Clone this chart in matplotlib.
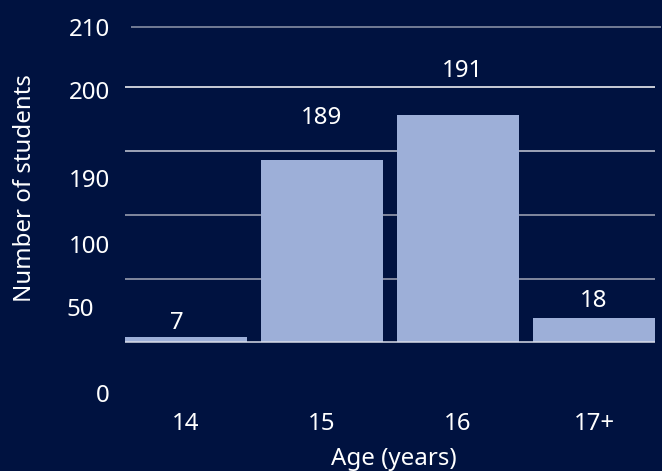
import numpy as np
import matplotlib
matplotlib.use('Agg')
import matplotlib.pyplot as plt
from matplotlib.transforms import ScaledTranslation

# ---- data ----
categories = ['14', '15', '16', '17+']
students = [7, 189, 191, 18]
y_tick_labels = ['0', '50', '100', '190', '200', '210']

# ---- style ----
BG = '#001240'
BAR = '#9DAFD8'
FS = 17.3
plt.rcParams['font.family'] = ['Noto Sans', 'DejaVu Sans']

# The original chart uses a distorted (non-linear) vertical axis.
# Scale knots: data value -> drawn height (px above the baseline)
val_knots = [-60, 0, 7, 18, 189, 191, 260]
hgt_knots = [-60, 0, 5, 24, 182, 227, 320]


def fwd(v):
    return np.interp(v, val_knots, hgt_knots)


def inv(h):
    return np.interp(h, hgt_knots, val_knots)


W, H = 662, 471
fig = plt.figure(figsize=(W / 100, H / 100), dpi=100, facecolor=BG)
base_px = 342.3
ax = fig.add_axes([125 / W, (H - (base_px + 60)) / H, 530 / W, 380 / H])
ax.set_facecolor(BG)
ax.set_yscale('function', functions=(fwd, inv))
ax.set_ylim(inv(-60), inv(320))
ax.set_xlim(-0.4485, 3.4485)
for s in ax.spines.values():
    s.set_visible(False)

# gridlines (drawn heights)
grid_h = [63.6, 127.3, 191.3, 255.0, 315.6]
grid_c = ['#a4a8b8', '#a4a8b8', '#c8ccd8', '#ffffff', '#9098ac']
for h, c in zip(grid_h, grid_c):
    x0 = 0.0113 if h > 300 else 0.0
    x1 = 1.0113 if h > 300 else 1.0
    ax.plot([x0, x1], [inv(h), inv(h)], transform=ax.get_yaxis_transform(),
            color=c, lw=1.1, zorder=1, clip_on=False, solid_capstyle='butt')

x = np.arange(len(categories))
ax.bar(x, students, width=122 / 136, color=BAR, zorder=2)
ax.plot([0, 1], [0, 0], transform=ax.get_yaxis_transform(), color='#d8dce8',
        lw=1.1, zorder=3)

label_off = [(-9, 8), (0, 36), (4, 38), (0, 11)]
for xi, v, off in zip(x, students, label_off):
    ax.annotate(str(v), (xi, v), xytext=off, textcoords='offset pixels',
                ha='center', va='baseline', color='white', fontsize=FS)

tick_h = [-50.7, 35.3, 98.1, 164.0, 252.3, 315.3]
ax.set_yticks(inv(np.array(tick_h)), y_tick_labels)
ax.set_xticks(x, categories)
ax.tick_params(axis='both', length=0, colors='white', labelsize=FS)
ax.tick_params(axis='y', pad=11)
ax.tick_params(axis='x', pad=7)
ax.minorticks_off()

# the "50" label sits further left in the original
lab50 = ax.get_yticklabels()[1]
lab50.set_transform(lab50.get_transform()
                    + ScaledTranslation(-16 / 100, 0, fig.dpi_scale_trans))

fig.text(394 / W, 1 - 465 / H, 'Age (years)', ha='center', va='baseline',
         color='white', fontsize=FS)
fig.text(25 / W, 1 - 188 / H, 'Number of students', ha='center', va='center',
         rotation=90, color='white', fontsize=FS)

fig.savefig('out.png', dpi=100, facecolor=BG)
